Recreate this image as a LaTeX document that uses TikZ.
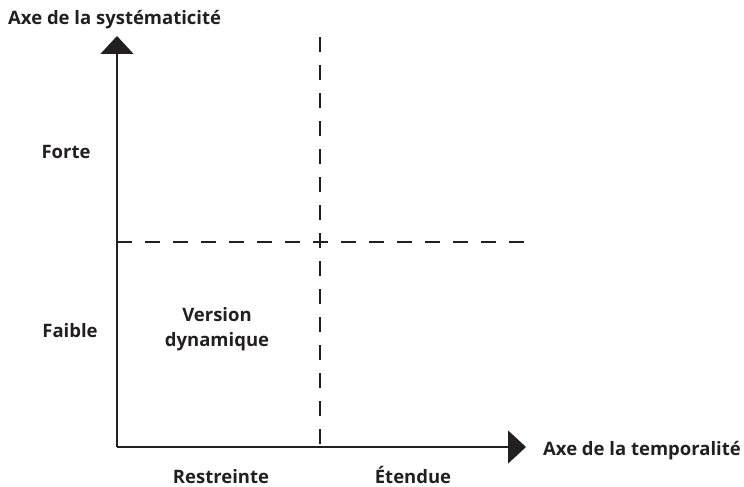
\documentclass[tikz,border=0pt]{standalone}
\usepackage{fontspec}
\setmainfont{Open Sans}
\usetikzlibrary{arrows.meta}
\definecolor{txt}{HTML}{231F20}
\tikzset{
  axisline/.style={line width=1.3pt, draw=txt, -{Triangle[width=33pt,length=18pt]}},
  dashline/.style={line width=1.3pt, draw=txt, dash pattern=on 15pt off 13pt},
  lbl/.style={font=\bfseries\fontsize{18.5}{23}\selectfont, text=txt, inner sep=0pt, align=center, anchor=base}
}
\begin{document}
\begin{tikzpicture}[x=1pt,y=-1pt]
\useasboundingbox (0,0) rectangle (744,487);
\coordinate (O) at (117,447);
\coordinate (Ytop) at (117,36);
\coordinate (Xend) at (526,447);
\coordinate (Vtop) at (320,37);
\coordinate (Vbot) at (320,447);
\coordinate (Hl) at (117,242);
\coordinate (Hr) at (526,242);
\draw[dashline] (Vtop) -- (Vbot);
\draw[dashline] (Hl) -- (Hr);
\draw[axisline] (O) -- (Ytop);
\draw[axisline] (O) -- (Xend);
\node[lbl, anchor=base west] (ys) at (8,25) {Axe de la systématicité};
\node[lbl, anchor=base east] (xs) at (741,455) {Axe de la temporalité};
\node[lbl] (forte) at (66,158) {Forte};
\node[lbl] (faible) at (70,337) {Faible};
\node[lbl] (vd1) at (217,321) {Version};
\node[lbl] (vd2) at (217,346) {dynamique};
\node[lbl] (res) at (221,483) {Restreinte};
\node[lbl] (ete) at (413,483) {Étendue};
\end{tikzpicture}
\end{document}
